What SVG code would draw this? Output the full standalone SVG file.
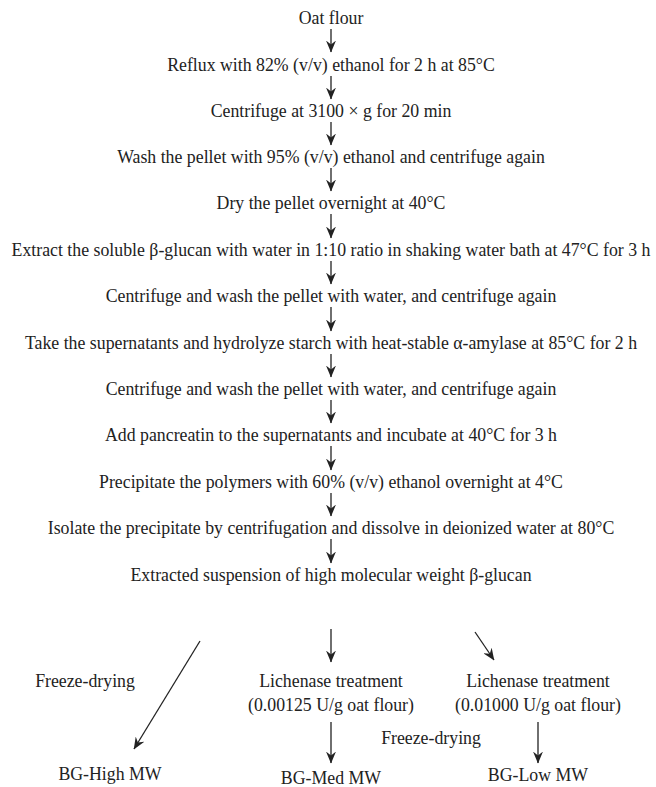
<svg xmlns="http://www.w3.org/2000/svg" width="656" height="787" viewBox="0 0 656 787">
<style>
text{font-family:"Liberation Serif","Times New Roman",Times,serif;font-size:17.8px;fill:#222;text-anchor:middle}
.c line{stroke:#222;stroke-width:1.3;marker-end:url(#ah)}
</style>
<defs>
<marker id="ah" markerUnits="userSpaceOnUse" markerWidth="12" markerHeight="10" viewBox="0 0 12 10" refX="11.5" refY="5" orient="auto">
<path d="M0,0 L12,5 L0,10 L4,5 Z" fill="#222"/>
</marker>
</defs>
<rect width="656" height="787" fill="#fff"/>
<g id="n1"><text x="331" y="24">Oat flour</text></g>
<g id="n2"><text x="331" y="71">Reflux with 82% (v/v) ethanol for 2 h at 85°C</text></g>
<g id="n3"><text x="331" y="117">Centrifuge at 3100 × g for 20 min</text></g>
<g id="n4"><text x="331" y="163">Wash the pellet with 95% (v/v) ethanol and centrifuge again</text></g>
<g id="n5"><text x="331" y="209">Dry the pellet overnight at 40°C</text></g>
<g id="n6"><text x="331" y="256">Extract the soluble β-glucan with water in 1:10 ratio in shaking water bath at 47°C for 3 h</text></g>
<g id="n7"><text x="331" y="302">Centrifuge and wash the pellet with water, and centrifuge again</text></g>
<g id="n8"><text x="331" y="349">Take the supernatants and hydrolyze starch with heat-stable α-amylase at 85°C for 2 h</text></g>
<g id="n9"><text x="331" y="395">Centrifuge and wash the pellet with water, and centrifuge again</text></g>
<g id="n10"><text x="331" y="441">Add pancreatin to the supernatants and incubate at 40°C for 3 h</text></g>
<g id="n11"><text x="331" y="488">Precipitate the polymers with 60% (v/v) ethanol overnight at 4°C</text></g>
<g id="n12"><text x="331" y="534">Isolate the precipitate by centrifugation and dissolve in deionized water at 80°C</text></g>
<g id="n13"><text x="331" y="581">Extracted suspension of high molecular weight β-glucan</text></g>
<g id="n14"><text x="331" y="687">Lichenase treatment</text><text x="331" y="711">(0.00125 U/g oat flour)</text></g>
<g id="n15"><text x="538" y="687">Lichenase treatment</text><text x="538" y="711">(0.01000 U/g oat flour)</text></g>
<g id="n16"><text x="110" y="780">BG-High MW</text></g>
<g id="n17"><text x="331" y="784">BG-Med MW</text></g>
<g id="n18"><text x="538" y="781">BG-Low MW</text></g>
<g id="labels"><text x="85" y="687">Freeze-drying</text><text x="431" y="744">Freeze-drying</text></g>
<g class="c" id="connectors">
<line x1="331" y1="29" x2="331" y2="52"/>
<line x1="331" y1="76" x2="331" y2="99"/>
<line x1="331" y1="122" x2="331" y2="145"/>
<line x1="331" y1="168" x2="331" y2="191"/>
<line x1="331" y1="214" x2="331" y2="238"/>
<line x1="331" y1="261" x2="331" y2="284"/>
<line x1="331" y1="307" x2="331" y2="331"/>
<line x1="331" y1="354" x2="331" y2="377"/>
<line x1="331" y1="400" x2="331" y2="423"/>
<line x1="331" y1="446" x2="331" y2="470"/>
<line x1="331" y1="493" x2="331" y2="516"/>
<line x1="331" y1="539" x2="331" y2="563"/>
<line x1="331" y1="629" x2="331" y2="662"/>
<line x1="200" y1="641" x2="134" y2="749"/>
<line x1="475" y1="632" x2="494" y2="660"/>
<line x1="331" y1="722" x2="331" y2="763"/>
<line x1="538" y1="722" x2="538" y2="763"/>
</g>
</svg>
